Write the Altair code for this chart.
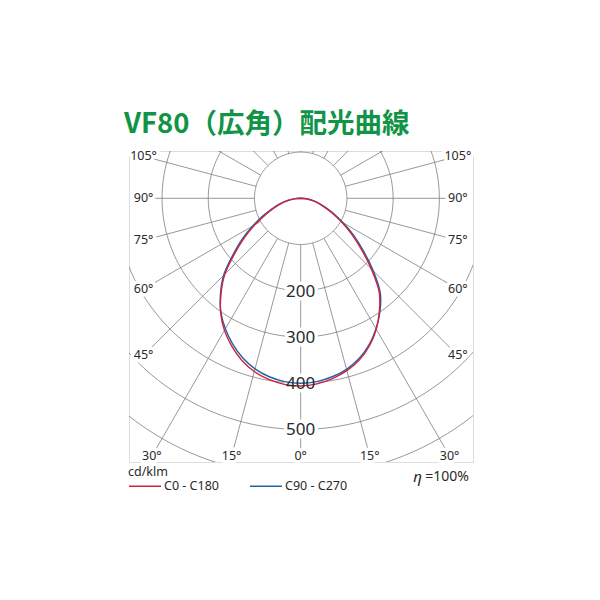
import math
import altair as alt
import pandas as pd

# ---------------- data ----------------
angles = [0, 5, 10, 15, 20, 25, 30, 35, 40, 45, 50, 55, 60, 65, 70, 75, 80, 85, 90]
c0_values = [406, 403, 396, 386, 372, 352, 327, 297, 264, 216, 171, 134, 101, 75, 53, 38, 25, 12, 0]
c180_values = [406, 404, 398, 388, 373, 353, 330, 302, 268, 232, 187, 149, 114, 84, 62, 44, 28, 14, 0]
c90_values = [400, 398, 392, 383, 369, 350, 326, 299, 268, 222, 177, 140, 106, 79, 56, 40, 26, 13, 0]
c270_values = [400, 398, 392, 382, 367, 348, 326, 301, 270, 236, 192, 155, 120, 90, 66, 47, 30, 15, 0]

series_names = ["C0 - C180", "C90 - C270"]
series_colors = ["#d0223a", "#2160a8"]

ring_values = [100, 200, 300, 400, 500, 600]
ring_label_values = [200, 300, 400, 500]
spoke_angles = [-165, -150, -135, -120, -105, -90, -75, -60, -45, -30, -15,
                0, 15, 30, 45, 60, 75, 90, 105, 120, 135, 150, 165, 180]
labelled_angles = [0, 15, 30, 45, 60, 75, 90, 105]

title_text = "VF80（広角）配光曲線"
unit_text = "cd/klm"
eta_symbol = "η"
eta_text = "=100%"

# ---------------- geometry helpers ----------------
X_DOMAIN = [-371.5, 372.8]
Y_DOMAIN = [-102.3, 570.5]
LABEL_X = 340.0
LABEL_Y = 558.0
GRID = "#7d7d7d"
INK = "#2a2a2a"
FONT = "Noto Sans"


def polar(r, a):
    t = math.radians(a)
    return r * math.sin(t), r * math.cos(t)


def label_radius(a):
    t = math.radians(a)
    s, c = math.sin(t), math.cos(t)
    cands = []
    if abs(s) > 1e-9:
        cands.append(LABEL_X / abs(s))
    if c > 1e-9:
        cands.append(LABEL_Y / c)
    return min(cands)


# rings
ring_rows = []
for R in ring_values:
    for k, a in enumerate(range(0, 361, 2)):
        x, y = polar(R, a)
        ring_rows.append({"ring": R, "k": k, "x": x, "y": y})
ring_df = pd.DataFrame(ring_rows)

# spokes
spoke_rows = []
for a in spoke_angles:
    r_end = label_radius(a) if abs(a) <= 105 else 900
    for k, r in enumerate([ring_values[0], r_end]):
        x, y = polar(r, a)
        spoke_rows.append({"spoke": a, "k": k, "x": x, "y": y})
spoke_df = pd.DataFrame(spoke_rows)

# angle labels
alab_rows = []
for a in labelled_angles:
    for sa in ([a] if a == 0 else [-a, a]):
        x, y = polar(label_radius(sa), sa)
        alab_rows.append({"x": x, "y": y, "t": f"{a}°"})
alab_df = pd.DataFrame(alab_rows)

# ring labels
rlab_df = pd.DataFrame({"x": [0.0] * len(ring_label_values),
                        "y": [float(v) for v in ring_label_values],
                        "t": [str(v) for v in ring_label_values]})

# curves
curve_rows = []
for name, left, right in [(series_names[0], c180_values, c0_values),
                          (series_names[1], c270_values, c90_values)]:
    k = 0
    for a, v in reversed(list(zip(angles, left))):
        x, y = polar(v, -a)
        curve_rows.append({"series": name, "k": k, "x": x, "y": y})
        k += 1
    for a, v in list(zip(angles, right))[1:]:
        x, y = polar(v, a)
        curve_rows.append({"series": name, "k": k, "x": x, "y": y})
        k += 1
curve_df = pd.DataFrame(curve_rows)

X = alt.X("x:Q", scale=alt.Scale(domain=X_DOMAIN, nice=False, zero=False), axis=None)
Y = alt.Y("y:Q", scale=alt.Scale(domain=Y_DOMAIN, nice=False, zero=False, reverse=True), axis=None)

rings = alt.Chart(ring_df).mark_line(clip=True, color=GRID, strokeWidth=0.8).encode(
    x=X, y=Y, detail="ring:N", order="k:Q")
spokes = alt.Chart(spoke_df).mark_line(clip=True, color=GRID, strokeWidth=0.8).encode(
    x=X, y=Y, detail="spoke:N", order="k:Q")

alab_halo = alt.Chart(alab_df).mark_text(font=FONT, fontSize=12.5, color="white", stroke="white",
                                          strokeWidth=7, strokeJoin="round").encode(x=X, y=Y, text="t:N")
alab = alt.Chart(alab_df).mark_text(font=FONT, fontSize=12.5, color=INK).encode(x=X, y=Y, text="t:N")

rlab_halo = alt.Chart(rlab_df).mark_text(font=FONT, fontSize=17, color="white", stroke="white",
                                          strokeWidth=7, strokeJoin="round", dy=1).encode(x=X, y=Y, text="t:N")
rlab = alt.Chart(rlab_df).mark_text(font=FONT, fontSize=17, color=INK, dy=1).encode(x=X, y=Y, text="t:N")

color_enc = alt.Color("series:N", scale=alt.Scale(domain=series_names, range=series_colors),
                      legend=alt.Legend(title=None, orient="none", legendX=-1, legendY=318,
                                        direction="horizontal", symbolType="stroke", symbolSize=1024,
                                        symbolStrokeWidth=1.5, labelFont=FONT,
                                        labelFontSize=12.5, labelColor=INK, labelOffset=2,
                                        columnPadding=28, padding=0))

curve_blue = alt.Chart(curve_df).transform_filter(
    alt.datum.series == series_names[1]).mark_line(interpolate="catmull-rom", strokeWidth=1.4).encode(
    x=X, y=Y, order="k:Q", color=color_enc)
curve_red = alt.Chart(curve_df).transform_filter(
    alt.datum.series == series_names[0]).mark_line(interpolate="catmull-rom", strokeWidth=1.4).encode(
    x=X, y=Y, order="k:Q", color=color_enc)

unit = alt.Chart(pd.DataFrame({"t": [unit_text]})).mark_text(
    font=FONT, fontSize=12.5, color=INK, align="left").encode(
    x=alt.value(-1), y=alt.value(321), text="t:N")

eta = alt.Chart(pd.DataFrame({"t": [eta_text]})).mark_text(
    font=FONT, fontSize=14, color=INK, align="right").encode(
    x=alt.value(340), y=alt.value(326), text="t:N")
eta_sym = alt.Chart(pd.DataFrame({"t": [eta_symbol]})).mark_text(
    font=FONT, fontSize=15, color=INK, align="right", fontStyle="italic").encode(
    x=alt.value(293), y=alt.value(326), text="t:N")

chart = alt.layer(rings, spokes, alab_halo, rlab_halo, curve_blue, curve_red, alab, rlab,
                  unit, eta, eta_sym).properties(
    width=344, height=311,
    padding={"left": 129, "top": 151, "right": 127, "bottom": 138},
    autosize=alt.AutoSizeParams(type="none"),
    title=alt.TitleParams(text=title_text, anchor="start", font="Noto Sans CJK JP", fontSize=27.5,
                          fontWeight="bold", color="#129446", offset=12, dx=-4),
).configure_view(stroke="#4a4a4a", strokeWidth=3).configure(background="white")

chart.save("out.html", embed_options={"renderer": "svg", "actions": False})
